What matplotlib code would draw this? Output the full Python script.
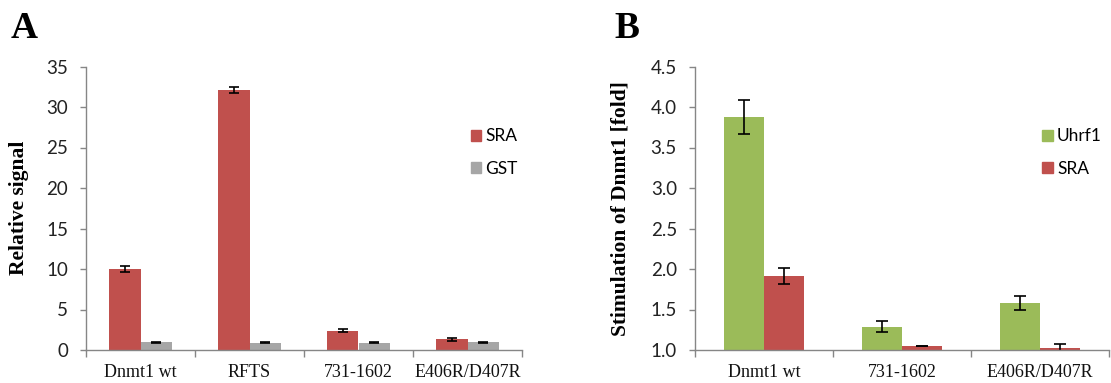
import matplotlib
matplotlib.use("Agg")
import matplotlib.pyplot as plt
from matplotlib.patches import Patch
import numpy as np

# ---- data ----
cats_a = ["Dnmt1 wt", "RFTS", "731-1602", "E406R/D407R"]
sra_a = [10.0, 32.1, 2.4, 1.3]
sra_a_err = [0.35, 0.4, 0.2, 0.2]
gst_a = [0.95, 0.9, 0.9, 0.95]
gst_a_err = [0.03, 0.08, 0.07, 0.03]
yticks_a = [0, 5, 10, 15, 20, 25, 30, 35]

cats_b = ["Dnmt1 wt", "731-1602", "E406R/D407R"]
uhrf1_b = [3.88, 1.29, 1.58]
uhrf1_b_err = [0.21, 0.07, 0.09]
sra_b = [1.91, 1.05, 1.02]
sra_b_err = [0.10, 0.005, 0.06]
yticks_b = [1.0, 1.5, 2.0, 2.5, 3.0, 3.5, 4.0, 4.5]

RED = "#C0504D"
GREY = "#A6A6A6"
GREEN = "#9BBB59"
AXC = "#868686"
TICKFONT = "Lato"
SERIF = "Liberation Serif"

fig = plt.figure(figsize=(11.11, 3.83), dpi=100)
bottom = 1 - 350 / 383
top = 1 - 66.5 / 383
axA = fig.add_axes([86 / 1111, bottom, (522 - 86) / 1111, top - bottom])
axB = fig.add_axes([695 / 1111, bottom, (1109 - 695) / 1111, top - bottom])


def style(ax, cats, yticks, fmt):
    n = len(cats)
    ax.set_xlim(-0.5, n - 0.5)
    for s in ["top", "right"]:
        ax.spines[s].set_visible(False)
    for s in ["left", "bottom"]:
        ax.spines[s].set_color(AXC)
        ax.spines[s].set_linewidth(1.0)
    ax.set_yticks(yticks)
    ax.set_yticklabels([fmt(v) for v in yticks], fontfamily=TICKFONT,
                       fontsize=13.5, color="#222222")
    ax.tick_params(axis="y", direction="out", length=4, width=1, color=AXC, pad=9)
    ax.set_xticks(np.arange(n))
    ax.set_xticklabels(cats, fontfamily=SERIF, fontsize=13, color="#111111")
    ax.tick_params(axis="x", which="major", length=0, pad=10)
    ax.set_xticks(np.arange(n + 1) - 0.5, minor=True)
    ax.tick_params(axis="x", which="minor", direction="out", length=5, width=1, color=AXC)


# ---- panel A ----
xa = np.arange(len(cats_a))
w = 0.285
axA.bar(xa - w / 2, sra_a, w, color=RED, yerr=sra_a_err,
        error_kw=dict(ecolor="black", elinewidth=1.2, capsize=3.5, capthick=1.2), label="SRA")
axA.bar(xa + w / 2, gst_a, w, color=GREY, yerr=gst_a_err,
        error_kw=dict(ecolor="black", elinewidth=1.2, capsize=3.5, capthick=1.2), label="GST")
axA.set_ylim(0, 35)
style(axA, cats_a, yticks_a, lambda v: f"{v:d}")
axA.set_ylabel("Relative signal", fontfamily=SERIF, fontweight="bold", fontsize=15.5)
axA.yaxis.set_label_coords(-0.13, 0.5)
hA = [Patch(color=RED), Patch(color=GREY)]
axA.legend(hA, ["SRA", "GST"], loc="upper left", bbox_to_anchor=(0.862, 0.812),
           frameon=False, borderpad=0, handlelength=0.6, handleheight=0.6,
           handletextpad=0.25, labelspacing=0.95,
           prop=dict(family=TICKFONT, size=12.5))

# ---- panel B ----
xb = np.arange(len(cats_b))
wb = 0.29
axB.bar(xb - wb / 2, uhrf1_b, wb, color=GREEN, yerr=uhrf1_b_err,
        error_kw=dict(ecolor="black", elinewidth=1.2, capsize=4.5, capthick=1.2), label="Uhrf1")
axB.bar(xb + wb / 2, sra_b, wb, color=RED, yerr=sra_b_err,
        error_kw=dict(ecolor="black", elinewidth=1.2, capsize=4.5, capthick=1.2), label="SRA")
axB.set_ylim(1.0, 4.5)
style(axB, cats_b, yticks_b, lambda v: f"{v:.1f}")
axB.set_ylabel("Stimulation of Dnmt1 [fold]", fontfamily=SERIF, fontweight="bold", fontsize=15.5)
axB.yaxis.set_label_coords(-0.155, 0.5)
hB = [Patch(color=GREEN), Patch(color=RED)]
axB.legend(hB, ["Uhrf1", "SRA"], loc="upper left", bbox_to_anchor=(0.818, 0.812),
           frameon=False, borderpad=0, handlelength=0.6, handleheight=0.6,
           handletextpad=0.25, labelspacing=0.95,
           prop=dict(family=TICKFONT, size=12.5))

fig.text(11 / 1111, 1 - 38 / 383, "A", fontfamily=SERIF, fontweight="bold",
         fontsize=27, va="baseline", ha="left")
fig.text(614 / 1111, 1 - 38 / 383, "B", fontfamily=SERIF, fontweight="bold",
         fontsize=27, va="baseline", ha="left")

fig.savefig("out.png", dpi=100)
